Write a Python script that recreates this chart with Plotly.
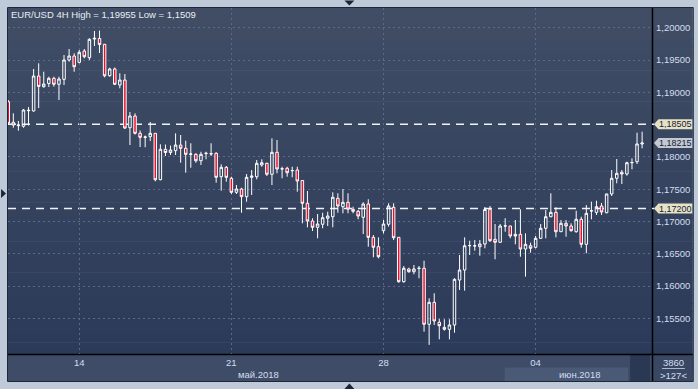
import plotly.graph_objects as go

# ---------------- data (EUR/USD 4H candles) ----------------
opens = [1.18854, 1.18536, 1.18483, 1.18474, 1.18715, 1.18711, 1.19252, 1.19087, 1.19136, 1.19217,
         1.19124, 1.19201, 1.19500, 1.19562, 1.19464, 1.19639, 1.19536, 1.19825, 1.19833, 1.19743,
         1.19257, 1.19361, 1.19113, 1.19190, 1.18452, 1.18633, 1.18365, 1.18303, 1.18313, 1.18365,
         1.17647, 1.18118, 1.18068, 1.18096, 1.18184, 1.18133, 1.18040, 1.18040, 1.17941, 1.18051,
         1.18045, 1.18056, 1.17693, 1.17839, 1.17669, 1.17452, 1.17503, 1.17384, 1.17684, 1.17693,
         1.17875, 1.17901, 1.17731, 1.18071, 1.17813, 1.17824, 1.17786, 1.17797, 1.17635, 1.17282,
         1.17008, 1.16910, 1.16957, 1.17050, 1.17074, 1.17359, 1.17229, 1.17297, 1.17189, 1.17158,
         1.17065, 1.17271, 1.16755, 1.16610, 1.16858, 1.16957, 1.17220, 1.16755, 1.16068, 1.16265,
         1.16223, 1.16272, 1.16276, 1.15409, 1.15749, 1.15440, 1.15362, 1.15331, 1.15398, 1.16094,
         1.16249, 1.16625, 1.16621, 1.16610, 1.16652, 1.17189, 1.16724, 1.16678, 1.16930, 1.16930,
         1.16802, 1.16802, 1.16574, 1.16625, 1.16601, 1.16740, 1.16895, 1.17074, 1.17142, 1.16842,
         1.16972, 1.16930, 1.16842, 1.17034, 1.16647, 1.17163, 1.17142, 1.17240, 1.17136, 1.17426,
         1.17669, 1.17762, 1.17735, 1.17910, 1.17926, 1.18200]
highs = [1.18881, 1.18675, 1.18556, 1.18741, 1.18772, 1.19361, 1.19449, 1.19319, 1.19241, 1.19241,
         1.19241, 1.19577, 1.19670, 1.19604, 1.19655, 1.19670, 1.19836, 1.19949, 1.19955, 1.19748,
         1.19381, 1.19384, 1.19294, 1.19283, 1.18695, 1.18675, 1.18409, 1.18331, 1.18540, 1.18370,
         1.18195, 1.18192, 1.18176, 1.18365, 1.18339, 1.18251, 1.18211, 1.18056, 1.18080, 1.18080,
         1.18211, 1.18071, 1.17885, 1.17859, 1.17693, 1.17565, 1.17523, 1.17735, 1.17797, 1.17952,
         1.17963, 1.17910, 1.18288, 1.18262, 1.17848, 1.17848, 1.17848, 1.17848, 1.17642, 1.17472,
         1.17050, 1.17116, 1.17136, 1.17152, 1.17452, 1.17437, 1.17503, 1.17437, 1.17229, 1.17178,
         1.17297, 1.17344, 1.16791, 1.16755, 1.17023, 1.17282, 1.17282, 1.16760, 1.16311, 1.16285,
         1.16327, 1.16311, 1.16393, 1.15811, 1.15889, 1.15491, 1.15486, 1.15486, 1.16121, 1.16481,
         1.16755, 1.16703, 1.16714, 1.16714, 1.17224, 1.17240, 1.16961, 1.16961, 1.17050, 1.16935,
         1.17023, 1.17189, 1.16817, 1.16672, 1.16776, 1.16961, 1.17178, 1.17437, 1.17220, 1.17023,
         1.17023, 1.16972, 1.17167, 1.17074, 1.17255, 1.17307, 1.17322, 1.17286, 1.17430, 1.17797,
         1.17968, 1.17797, 1.17926, 1.17978, 1.18375, 1.18390]
lows = [1.18494, 1.18452, 1.18406, 1.18452, 1.18486, 1.18703, 1.18757, 1.19071, 1.19082, 1.19087,
        1.18881, 1.19113, 1.19474, 1.19319, 1.19449, 1.19526, 1.19500, 1.19717, 1.19608, 1.19232,
        1.19241, 1.19113, 1.19062, 1.18432, 1.18184, 1.18347, 1.18153, 1.18149, 1.18246, 1.17622,
        1.17638, 1.18014, 1.18029, 1.18029, 1.17910, 1.17755, 1.17833, 1.17910, 1.17875, 1.17963,
        1.18014, 1.17601, 1.17477, 1.17616, 1.17426, 1.17426, 1.17136, 1.17307, 1.17410, 1.17653,
        1.17848, 1.17704, 1.17565, 1.17746, 1.17669, 1.17693, 1.17684, 1.17461, 1.16972, 1.16910,
        1.16853, 1.16740, 1.16895, 1.16930, 1.16910, 1.17136, 1.17127, 1.17127, 1.17127, 1.17034,
        1.16806, 1.16610, 1.16446, 1.16430, 1.16817, 1.16920, 1.16714, 1.16053, 1.16053, 1.16207,
        1.16183, 1.16121, 1.15294, 1.15090, 1.15398, 1.15176, 1.15310, 1.15176, 1.15279, 1.15940,
        1.15929, 1.16481, 1.16548, 1.16471, 1.16585, 1.16683, 1.16415, 1.16672, 1.16842, 1.16740,
        1.16647, 1.16455, 1.16146, 1.16517, 1.16585, 1.16729, 1.16740, 1.17065, 1.16755, 1.16839,
        1.16765, 1.16842, 1.16827, 1.16594, 1.16508, 1.17034, 1.17101, 1.17101, 1.17127, 1.17395,
        1.17591, 1.17581, 1.17709, 1.17808, 1.17890, 1.18133]
closes = [1.18520, 1.18494, 1.18494, 1.18726, 1.18721, 1.19252, 1.19090, 1.19128, 1.19217, 1.19124,
          1.19206, 1.19500, 1.19562, 1.19396, 1.19619, 1.19551, 1.19820, 1.19836, 1.19740, 1.19255,
          1.19361, 1.19124, 1.19190, 1.18447, 1.18633, 1.18365, 1.18303, 1.18308, 1.18365, 1.17647,
          1.18118, 1.18068, 1.18107, 1.18184, 1.18133, 1.18040, 1.18045, 1.17941, 1.18040, 1.18056,
          1.18050, 1.17684, 1.17839, 1.17684, 1.17452, 1.17503, 1.17384, 1.17684, 1.17704, 1.17901,
          1.17910, 1.17731, 1.18071, 1.17813, 1.17816, 1.17755, 1.17790, 1.17627, 1.17282, 1.17008,
          1.16910, 1.16961, 1.17059, 1.17085, 1.17375, 1.17240, 1.17297, 1.17193, 1.17158, 1.17085,
          1.17271, 1.16755, 1.16601, 1.16455, 1.16961, 1.17240, 1.16749, 1.16068, 1.16276, 1.16223,
          1.16265, 1.16276, 1.15409, 1.15749, 1.15460, 1.15387, 1.15331, 1.15398, 1.16105, 1.16249,
          1.16625, 1.16628, 1.16624, 1.16652, 1.17186, 1.16703, 1.16678, 1.16930, 1.16933, 1.16776,
          1.16776, 1.16574, 1.16647, 1.16585, 1.16740, 1.16895, 1.17074, 1.17142, 1.16842, 1.16972,
          1.16930, 1.16858, 1.17034, 1.16647, 1.17127, 1.17166, 1.17229, 1.17147, 1.17426, 1.17669,
          1.17746, 1.17735, 1.17910, 1.17913, 1.18200, 1.18215]

day_tick_index = [14, 44, 74, 104]
day_tick_labels = ["14", "21", "28", "04"]
month_labels = ["май.2018", "июн.2018"]
price_ticks = [1.155, 1.160, 1.165, 1.170, 1.175, 1.180, 1.190, 1.195, 1.200]
levels = [1.18505, 1.17200]
symbol = "EUR/USD 4H"
bars_info = ["3860", ">127<"]

# ---------------- layout geometry ----------------
W, H = 698, 389
ML, MR, MT, MB = 8, 43, 8, 35
PW, PH = W - ML - MR, H - MT - MB
Y0, Y1 = 1.14949, 1.20305
X0, X1 = -0.05, 126.95
FONT = "Liberation Sans, Arial, sans-serif"


def px(x):
    return (x - ML) / PW


def py(y):
    return 1 - (y - MT) / PH


def pprice(p):
    return (p - Y0) / (Y1 - Y0)


def fmt(p, strip=False):
    s = f"{p:.5f}"
    if strip:
        s = s.rstrip("0")
    return s.replace(".", ",")


idx = list(range(len(opens)))

fig = go.Figure()
fig.add_trace(go.Candlestick(
    x=idx, open=opens, high=highs, low=lows, close=closes,
    increasing=dict(line=dict(color="#ffffff", width=1), fillcolor="rgba(0,0,0,0)"),
    decreasing=dict(line=dict(color="#ffffff", width=1), fillcolor="#e6102d"),
    whiskerwidth=0, hoverinfo="skip", showlegend=False,
))

shapes = []
# background gradient (plot + right panel)
top_c, bot_c = (64, 77, 101), (42, 57, 88)
N = 48
ya, yb = 8, 381
for k in range(N):
    t = k / (N - 1)
    c = tuple(round(top_c[j] + (bot_c[j] - top_c[j]) * t) for j in range(3))
    y_top = ya + (yb - ya) * k / N
    y_bot = ya + (yb - ya) * (k + 1) / N + 0.6
    shapes.append(dict(type="rect", xref="paper", yref="paper", layer="below",
                       x0=px(8), x1=px(696), y0=py(y_bot), y1=py(y_top),
                       fillcolor="rgb(%d,%d,%d)" % c, line=dict(width=0)))
# bottom time panel
shapes.append(dict(type="rect", xref="paper", yref="paper", layer="below",
                   x0=px(8), x1=px(655), y0=py(381), y1=py(354),
                   fillcolor="#3e4c68", line=dict(width=0)))
shapes.append(dict(type="rect", xref="paper", yref="paper", layer="below",
                   x0=px(507), x1=px(631), y0=py(381), y1=py(367.5),
                   fillcolor="#4a5976", line=dict(width=0)))
shapes.append(dict(type="rect", xref="paper", yref="paper", layer="below",
                   x0=px(633), x1=px(653), y0=py(381), y1=py(355),
                   fillcolor="#2b3853", line=dict(width=0)))
shapes.append(dict(type="rect", xref="paper", yref="paper", layer="below",
                   x0=px(656), x1=px(696), y0=py(381), y1=py(355),
                   fillcolor="#394763", line=dict(width=0)))
# separators
shapes.append(dict(type="line", xref="paper", yref="paper", layer="below",
                   x0=px(655.5), x1=px(655.5), y0=py(381), y1=py(8),
                   line=dict(color="#000000", width=1.5)))
shapes.append(dict(type="line", xref="paper", yref="paper", layer="below",
                   x0=px(8), x1=px(696), y0=py(354.5), y1=py(354.5),
                   line=dict(color="#000000", width=1.5)))
# outer border of chart window
shapes.append(dict(type="rect", xref="paper", yref="paper", layer="below",
                   x0=px(7.5), x1=px(696.5), y0=py(381.5), y1=py(7.5),
                   line=dict(color="#1f2839", width=1)))
# underline of bar count
shapes.append(dict(type="line", xref="paper", yref="paper", layer="below",
                   x0=px(665), x1=px(688), y0=py(368.5), y1=py(368.5),
                   line=dict(color="#a9b8d0", width=1)))
# scroll triangles on the frame
tri_col = "#1c2535"
shapes.append(dict(type="path", xref="paper", yref="paper", layer="above",
                   path="M %f,%f L %f,%f L %f,%f Z" % (px(1), py(189), px(6), py(193.5), px(1), py(198)),
                   fillcolor=tri_col, line=dict(width=0)))
shapes.append(dict(type="path", xref="paper", yref="paper", layer="above",
                   path="M %f,%f L %f,%f L %f,%f Z" % (px(346), py(0.5), px(356), py(0.5), px(351), py(5.5)),
                   fillcolor=tri_col, line=dict(width=0)))
shapes.append(dict(type="path", xref="paper", yref="paper", layer="above",
                   path="M %f,%f L %f,%f L %f,%f Z" % (px(346), py(389), px(356), py(389), px(351), py(383.5)),
                   fillcolor=tri_col, line=dict(width=0)))
# dashed level lines
for lv in levels:
    shapes.append(dict(type="line", xref="paper", yref="y", layer="below",
                       x0=0, x1=px(657), y0=lv, y1=lv,
                       line=dict(color="#eef2f8", width=1.5, dash="8px,6px")))

annotations = []
# price tags on right scale
last = closes[-1]
tags = [(levels[0], "#e6e3c5"), (last, "#c3c9d3"), (levels[1], "#e6e3c5")]
for p, col in tags:
    yc = MT + (1 - pprice(p)) * PH
    path = "M %f,%f L %f,%f L %f,%f L %f,%f L %f,%f Z" % (
        px(657), py(yc), px(661.5), py(yc - 5), px(695.5), py(yc - 5),
        px(695.5), py(yc + 5), px(661.5), py(yc + 5))
    shapes.append(dict(type="path", xref="paper", yref="paper", layer="above",
                       path=path, fillcolor=col, line=dict(width=0)))
    annotations.append(dict(xref="paper", yref="paper", x=px(678.5), y=py(yc), xanchor="center",
                            yanchor="middle", text=fmt(p), showarrow=False,
                            font=dict(family=FONT, size=9, color="#17203a")))

txt_font = dict(family=FONT, size=9.5, color="#d3def0")
title_text = "%s High = %s Low = %s" % (symbol, fmt(max(highs)), fmt(min(lows), strip=True))
annotations.append(dict(xref="paper", yref="paper", x=px(9.5), y=py(14.5), xanchor="left",
                        yanchor="middle", text=title_text, showarrow=False,
                        font=dict(family=FONT, size=9.5, color="#e8edf5")))
annotations.append(dict(xref="paper", yref="paper", x=px(260), y=py(374.5), xanchor="center",
                        yanchor="middle", text=month_labels[0], showarrow=False, font=txt_font))
annotations.append(dict(xref="paper", yref="paper", x=px(582), y=py(374.5), xanchor="center",
                        yanchor="middle", text=month_labels[1], showarrow=False, font=txt_font))
annotations.append(dict(xref="paper", yref="paper", x=px(677), y=py(362), xanchor="center",
                        yanchor="middle", text=bars_info[0], showarrow=False, font=txt_font))
annotations.append(dict(xref="paper", yref="paper", x=px(677), y=py(375.5), xanchor="center",
                        yanchor="middle", text=bars_info[1], showarrow=False, font=txt_font))

grid_col = "#5b6a86"
fig.update_layout(
    width=W, height=H,
    margin=dict(l=ML, r=MR, t=MT, b=MB, pad=0),
    paper_bgcolor="#bfcad9",
    plot_bgcolor="rgba(0,0,0,0)",
    shapes=shapes,
    annotations=annotations,
    showlegend=False,
    xaxis=dict(range=[X0, X1], tickmode="array", tickvals=day_tick_index, ticktext=day_tick_labels,
               showgrid=True, gridcolor=grid_col, gridwidth=1, griddash="2px,3px",
               zeroline=False, showline=False, ticks="", ticklabelstandoff=1,
               tickfont=txt_font, rangeslider=dict(visible=False), fixedrange=True),
    yaxis=dict(range=[Y0, Y1], side="right", tickmode="array", tickvals=price_ticks,
               ticktext=[fmt(v) for v in price_ticks],
               showgrid=True, gridcolor=grid_col, gridwidth=1, griddash="2px,3px",
               zeroline=False, showline=False, ticks="", ticklabelstandoff=3,
               tickfont=txt_font, fixedrange=True),
)

fig.write_html("out.html", config={"displayModeBar": False},
               post_script="document.body.style.margin='0';document.body.style.background='#bfcad9';")
